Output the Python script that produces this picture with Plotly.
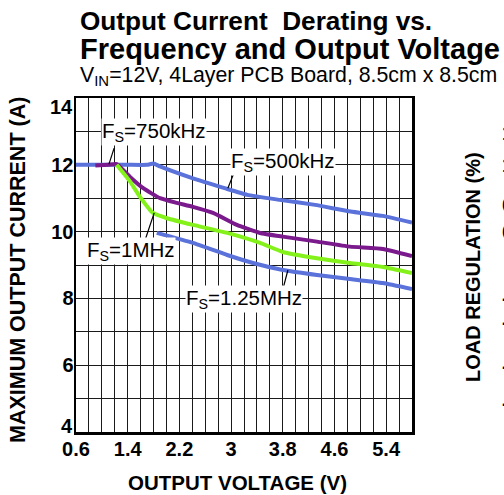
import plotly.graph_objects as go

# ---- data ----
v_500k = [0.6, 1.0, 1.4, 1.7, 1.8, 1.9, 2.4, 2.9, 3.25, 3.75, 4.3, 4.85, 5.35, 5.8]
i_500k = [12.0, 12.0, 12.0, 12.0, 12.04, 11.95, 11.6, 11.3, 11.1, 10.95, 10.8, 10.6, 10.47, 10.27]

v_750k = [0.9, 1.1, 1.23, 1.44, 1.64, 1.9, 2.16, 2.41, 2.72, 3.09, 3.45, 3.8, 4.33, 4.84, 5.35, 5.8]
i_750k = [11.98, 12.0, 12.02, 11.63, 11.3, 11.0, 10.86, 10.74, 10.56, 10.2, 9.96, 9.85, 9.7, 9.55, 9.48, 9.27]

v_1m = [1.23, 1.44, 1.59, 1.79, 2.01, 2.41, 2.94, 3.45, 3.8, 4.33, 4.84, 5.35, 5.8]
i_1m = [12.0, 11.49, 11.04, 10.56, 10.4, 10.2, 9.96, 9.66, 9.39, 9.2, 9.06, 8.94, 8.76]

v_125m = [1.85, 2.41, 2.94, 3.34, 3.8, 4.33, 4.84, 5.35, 5.8]
i_125m = [9.96, 9.66, 9.3, 9.06, 8.85, 8.7, 8.58, 8.46, 8.28]

x_tickvals = [0.6, 1.4, 2.2, 3.0, 3.8, 4.6, 5.4]
x_ticktext = ["0.6", "1.4", "2.2", "3", "3.8", "4.6", "5.4"]
y_tickvals = [6, 8, 10, 12]
y_ticktext = ["6", "8", "10", "12"]
y_end_vals = [4, 14]          # end labels sit inside the frame height in the reference
y_end_text = ["4", "14"]

BLUE = "#5A72DA"
PURPLE = "#7A1A8C"
GREEN = "#84F21A"
FONT = "Liberation Sans, Arial, sans-serif"

fig = go.Figure()
for xs, ys, col in [(v_500k, i_500k, BLUE), (v_125m, i_125m, BLUE),
                    (v_750k, i_750k, PURPLE), (v_1m, i_1m, GREEN)]:
    fig.add_trace(go.Scatter(x=xs, y=ys, mode="lines",
                             line=dict(color=col, width=4, shape="spline", smoothing=0.4),
                             showlegend=False, hoverinfo="skip"))

# leader lines for the curve labels
leaders = [((1.19, 12.5), (1.11, 12.02)),
           ((3.05, 11.78), (2.95, 11.3)),
           ((1.68, 9.81), (1.81, 10.56)),
           ((3.79, 8.19), (3.88, 8.85))]
shapes = [dict(type="line", xref="x", yref="y", x0=a[0], y0=a[1], x1=b[0], y1=b[1],
               line=dict(color="black", width=1.2), layer="above") for a, b in leaders]

labels = [("F<sub>S</sub>=750kHz", 1.80, 12.98),
          ("F<sub>S</sub>=500kHz", 3.80, 12.08),
          ("F<sub>S</sub>=1MHz", 1.45, 9.42),
          ("F<sub>S</sub>=1.25MHz", 3.20, 7.98)]
annotations = [dict(text=t, x=x, y=y, xref="x", yref="y", showarrow=False,
                    xanchor="center", yanchor="middle", bgcolor="white", borderpad=0,
                    font=dict(family=FONT, size=20.5, color="black"))
               for t, x, y in labels]

TICKFONT = dict(family=FONT, size=20, color="black", weight="bold")
# end labels of the y axis (4 at the bottom, 14 at the top)
for val, txt in zip(y_end_vals, y_end_text):
    low = val == min(y_end_vals)
    annotations.append(dict(text=txt, x=0, y=val, xref="paper", yref="y", showarrow=False,
                            xanchor="right", yanchor="bottom" if low else "top",
                            xshift=-1, yshift=-7 if low else 4,
                            font=TICKFONT))

def px2paper(px, py):
    return (px - 76) / 336.0, (432 - py) / 334.0

# titles
for text, py, size, bold in [("Output Current\u00a0 Derating vs.", 20.5, 26.2, True),
                             ("Frequency and Output Voltage", 48.5, 29.0, True),
                             ("V<sub>IN</sub>=12V, 4Layer PCB Board, 8.5cm x 8.5cm", 76, 21.3, False)]:
    x, y = px2paper(78, py)
    annotations.append(dict(text=text, x=x, y=y, xref="paper", yref="paper", showarrow=False,
                            xanchor="left", yanchor="middle",
                            font=dict(family=FONT, size=size, color="black",
                                      weight="bold" if bold else "normal")))

x, y = px2paper(18, 270)
annotations.append(dict(text="MAXIMUM OUTPUT CURRENT (A)", x=x, y=y, xref="paper", yref="paper",
                        showarrow=False, textangle=-90, xanchor="center", yanchor="middle",
                        font=dict(family=FONT, size=21.5, color="black", weight="bold")))
x, y = px2paper(237, 482)
annotations.append(dict(text="OUTPUT VOLTAGE (V)", x=x, y=y, xref="paper", yref="paper",
                        showarrow=False, xanchor="center", yanchor="middle",
                        font=dict(family=FONT, size=20.5, color="black", weight="bold")))
x, y = px2paper(473, 267)
annotations.append(dict(text="LOAD REGULATION (%)", x=x, y=y, xref="paper", yref="paper",
                        showarrow=False, textangle=-90, xanchor="center", yanchor="middle",
                        font=dict(family=FONT, size=20, color="black", weight="bold")))
# neighbouring chart's tick labels, cut off at the right edge
for t, py in [("1.5", 133), ("1.0", 165), ("0.5", 205), ("0", 232),
              ("-0.5", 298), ("-0.5", 322), ("-1.0", 366), ("-1.5", 403)]:
    x, y = px2paper(500, py)
    annotations.append(dict(text=t, x=x, y=y, xref="paper", yref="paper", showarrow=False,
                            xanchor="left", yanchor="middle",
                            font=dict(family=FONT, size=20, color="black", weight="bold")))

axis_common = dict(showline=True, linecolor="black", linewidth=2.5, mirror=True,
                   showgrid=True, gridcolor="#1a1a1a", gridwidth=1, zeroline=False,
                   ticks="", tickfont=TICKFONT)

fig.update_layout(
    width=504, height=495,
    margin=dict(l=76, r=92, t=98, b=63),
    paper_bgcolor="white", plot_bgcolor="white",
    xaxis=dict(range=[0.6, 5.8], tickmode="array", tickvals=x_tickvals, ticktext=x_ticktext,
               minor=dict(dtick=0.2, tick0=0.6, showgrid=True, gridcolor="#1a1a1a", gridwidth=1),
               ticklabelstandoff=-3, **axis_common),
    yaxis=dict(range=[4, 14], tickmode="array", tickvals=y_tickvals, ticktext=y_ticktext,
               minor=dict(dtick=1, tick0=4, showgrid=True, gridcolor="#1a1a1a", gridwidth=1),
               ticklabelstandoff=-4, **axis_common),
    shapes=shapes,
    annotations=annotations,
)

fig.write_html("out.html", config={"displayModeBar": False, "staticPlot": True},
               post_script="document.body.style.margin='0';document.body.style.overflow='hidden';")
